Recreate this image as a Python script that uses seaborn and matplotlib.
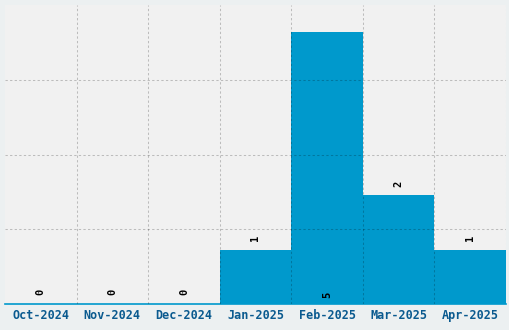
import matplotlib
matplotlib.use("Agg")
import matplotlib.pyplot as plt
import seaborn as sns
import pandas as pd
import numpy as np

months = ["Oct-2024", "Nov-2024", "Dec-2024", "Jan-2025", "Feb-2025", "Mar-2025", "Apr-2025"]
counts = [0, 0, 0, 1, 5, 2, 1]

df = pd.DataFrame({"month": months, "count": counts})

sns.set_theme(style="white")
plt.rcParams["font.family"] = ["DejaVu Sans Mono"]

fig = plt.figure(figsize=(5.1, 3.3), dpi=100, facecolor="#ecf0f1")
ax = fig.add_axes([5/510, 26/330, 501/510, 299/330])
ax.set_facecolor("#f1f1f1")

sns.barplot(data=df, x="month", y="count", color="#0099cc", saturation=1,
            width=1.0, ax=ax, edgecolor="none", linewidth=0)

ymax = max(counts) * 1.1
ax.set_ylim(0, ymax)
ax.set_xlim(-0.5, len(months) - 0.5)

ax.set_yticks([ymax * f for f in (0.25, 0.5, 0.75)])
ax.set_yticklabels([])
ax.tick_params(axis="y", length=0)
ax.set_xticks(np.arange(len(months)) + 0.5, minor=True)
ax.tick_params(axis="x", which="both", length=0)
ax.set_axisbelow(False)
gkw = dict(color="black", alpha=0.22, linestyle=(0, (2.2, 2.2)), linewidth=0.75)
ax.grid(True, axis="y", which="major", **gkw)
ax.grid(True, axis="x", which="minor", **gkw)
ax.grid(False, axis="x", which="major")

ax.set_xticklabels(months, fontsize=8.5, fontweight="bold", color="#0a5a8f")
ax.tick_params(axis="x", pad=3.5)
ax.set_xlabel("")
ax.set_ylabel("")

for s in ("top", "left", "right"):
    ax.spines[s].set_visible(False)
ax.spines["bottom"].set_color("#0099cc")
ax.spines["bottom"].set_linewidth(1.2)

for i, v in enumerate(counts):
    if v == max(counts):
        ax.annotate(str(v), (i, 0), xytext=(0, 6.5), textcoords="offset points",
                    ha="center", va="center", rotation=90, fontsize=7.5,
                    fontweight="bold", color="black")
    else:
        ax.annotate(str(v), (i, v), xytext=(0, 8.5), textcoords="offset points",
                    ha="center", va="center", rotation=90, fontsize=7.5,
                    fontweight="bold", color="black")

fig.savefig("out.png", dpi=100, facecolor=fig.get_facecolor())
